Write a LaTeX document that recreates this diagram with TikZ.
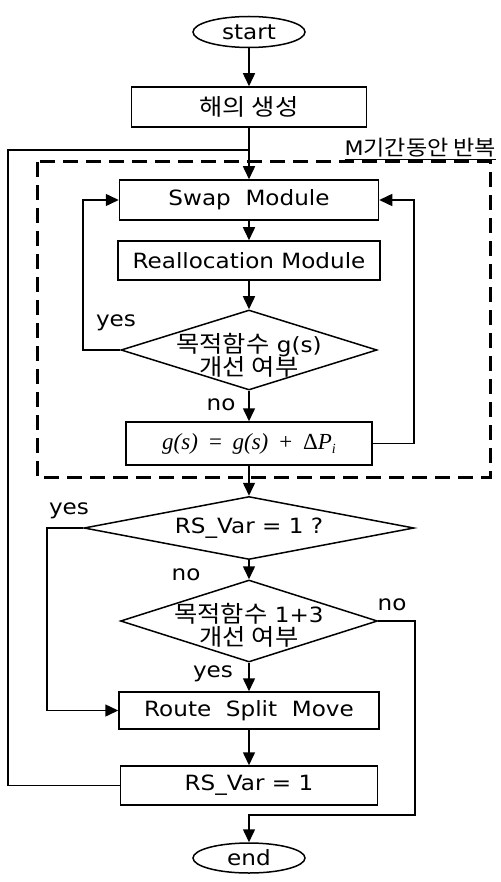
\documentclass[tikz,border=0pt]{standalone}
\usepackage[no-math]{fontspec}
\setmainfont{DejaVu Sans}[FakeStretch=1.1]
\newfontfamily\kr{Noto Sans CJK KR}[FakeStretch=1.1]
\newfontfamily\tms{Liberation Serif}
\newcommand\krt[1]{{\fontsize{23}{25}\selectfont\kr #1}}
\usetikzlibrary{arrows.meta,shapes.geometric}
\begin{document}
\begin{tikzpicture}[x=1pt,y=-1pt,
  line width=1.5pt,
  font=\fontsize{21}{25}\selectfont,
  arr/.style={-{Triangle[length=13pt,width=12pt]}},
  term/.style={draw,ellipse,inner sep=0pt,minimum width=112pt,minimum height=31pt},
  proc/.style={draw,rectangle,inner sep=0pt},
  dia/.style={draw,diamond,inner sep=0pt},
  lbl/.style={inner sep=0pt}
]
\useasboundingbox (0,0) rectangle (500,882);
\fill[white] (0,0) rectangle (500,882);

% nodes
\node[term] (start) at (249,32) {start};
\node[proc,minimum width=235pt,minimum height=40pt] (gen) at (249,107) {\krt{해의 생성}};
\node[proc,minimum width=259pt,minimum height=40pt] (swap) at (249,200) {Swap\ \ Module};
\node[proc,minimum width=262pt,minimum height=39pt] (realloc) at (249,260.5) {Reallocation Module};
\node[dia,minimum width=256pt,minimum height=80pt] (d1) at (249,350) {};
\node[lbl,align=center] (d1t) at (249,355) {\krt{목적함수} g(s)\\[-2pt]\krt{개선 여부}};
\node[proc,minimum width=246pt,minimum height=43pt,font=\fontsize{23}{26}\selectfont\tms\itshape] (gs) at (249,443.5) {g(s)\ \,=\ \,g(s)\ \,+\ \,{\upshape Δ}P\raisebox{-4pt}{\fontsize{14}{14}\selectfont i}};
\node[dia,minimum width=330pt,minimum height=63pt] (d2) at (249,528) {};
\node[lbl] (d2t) at (249,528) {RS\_Var = 1 ?};
\node[dia,minimum width=257pt,minimum height=82pt] (d3) at (249,621) {};
\node[lbl,align=center] (d3t) at (249,625) {\krt{목적함수} 1+3\\[-2pt]\krt{개선 여부}};
\node[proc,minimum width=260pt,minimum height=37pt] (rsm) at (249,710.5) {Route\ \ Split\ \ Move};
\node[proc,minimum width=257pt,minimum height=39pt] (rsv) at (249,785.5) {RS\_Var = 1};
\node[term,minimum height=30pt] (end) at (249,858) {end};

% dashed loop frame
\draw[dashed,line width=3pt,dash pattern=on 15pt off 8pt] (37,162) rectangle (490,477);
\node[lbl,anchor=base east,font=\fontsize{20}{22}\selectfont] (mlabel) at (497,156) {\underline{M{\fontsize{21}{22}\selectfont\kr 기간동안 반복}}};

% coordinates for connectors
\coordinate (j) at (249,150);
\coordinate (yl) at (83,350);
\coordinate (gr) at (414,443.5);
\coordinate (y2) at (47,528);
\coordinate (nr) at (415,621);
\coordinate (nb) at (415,815);
\coordinate (ne) at (249,815);
\coordinate (lb) at (8,785.5);
\coordinate (lt) at (8,150);

% connectors
\draw[arr] (start) -- (gen);
\draw[arr] (gen) -- (swap);
\draw[arr] (swap) -- (realloc);
\draw[arr] (realloc) -- (d1);
\draw[arr] (d1.west) -- (yl) |- (swap.west);
\draw[arr] (d1) -- (gs);
\draw[arr] (gs.east) -- (gr) |- (swap.east);
\draw[arr] (gs) -- (d2);
\draw[arr] (d2.west) -- (y2) |- (rsm.west);
\draw[arr] (d2) -- (d3);
\draw[arr] (d3) -- (rsm);
\draw[arr] (d3.east) -- (nr) -- (nb) -- (ne) -- (end);
\draw[arr] (rsm) -- (rsv);
\draw (rsv.west) -- (lb) -- (lt) -- (j);

% labels
\node[lbl] (yes1) at (116,323) {yes};
\node[lbl] (no1) at (221,405) {no};
\node[lbl] (yes2) at (69,511) {yes};
\node[lbl] (no2) at (186,575) {no};
\node[lbl] (no3) at (392,605) {no};
\node[lbl] (yes3) at (213,674) {yes};
\end{tikzpicture}
\end{document}
